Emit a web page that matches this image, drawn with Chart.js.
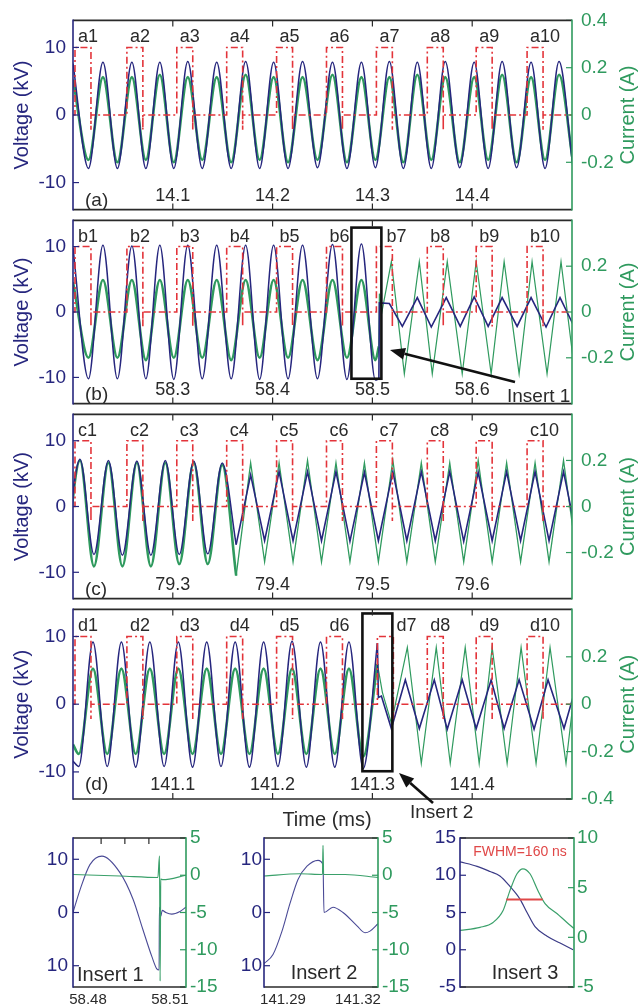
<!DOCTYPE html>
<html>
<head>
<meta charset="utf-8">
<script src="https://cdn.jsdelivr.net/npm/chart.js"></script>
<style>
  body { margin: 0; background: #fff; }
  #wrap { position: relative; width: 639px; height: 1008px; overflow: hidden; }
  canvas { position: absolute; }
</style>
</head>
<body>
<div id="wrap">
  <canvas id="pa"></canvas>
  <canvas id="pb"></canvas>
  <canvas id="pc"></canvas>
  <canvas id="pd"></canvas>
  <canvas id="i1"></canvas>
  <canvas id="i2"></canvas>
  <canvas id="i3"></canvas>
</div>
<script>
// ---- data (time in ms, voltage in kV, current in A) ----

// pulse trains (start times of the 10 trigger pulses in each panel)
const pulseWidth = 0.016;
const pulseHigh = 10;
const pulseLow = -2.2;
const aPulse = [14.002, 14.054, 14.104, 14.154, 14.204, 14.254, 14.304, 14.355, 14.404, 14.455];
const bPulse = [58.202, 58.254, 58.304, 58.354, 58.404, 58.454, 58.504, 58.555, 58.604, 58.655];
const cPulse = [79.202, 79.254, 79.304, 79.354, 79.404, 79.454, 79.504, 79.555, 79.604, 79.655];
const dPulse = [141.002, 141.054, 141.104, 141.154, 141.204, 141.254, 141.305, 141.355, 141.404, 141.455];

// tick labels
const aTicks = [14.1, 14.2, 14.3, 14.4];
const bTicks = [58.3, 58.4, 58.5, 58.6];
const cTicks = [79.3, 79.4, 79.5, 79.6];
const dTicks = [141.1, 141.2, 141.3, 141.4];
const voltTicks = [-10, 0, 10];
const currTicksA = [-0.2, 0, 0.2, 0.4];
const currTicks = [-0.2, 0, 0.2];
const currTicksD = [-0.4, -0.2, 0, 0.2];

// panel (a): peaks and troughs of voltage and current
const aTime = [14.000, 14.0155, 14.030, 14.0445, 14.059, 14.073, 14.087, 14.101, 14.115, 14.1295, 14.144, 14.1585,
  14.173, 14.187, 14.201, 14.2155, 14.230, 14.245, 14.260, 14.2745, 14.289, 14.303, 14.317, 14.331,
  14.345, 14.359, 14.373, 14.3875, 14.402, 14.416, 14.430, 14.4445, 14.459, 14.473, 14.487, 14.501];
const aVolt = [7.6, -7.9, 7.8, -7.9, 7.8, -7.9, 7.8, -7.9, 7.9, -7.9, 7.8, -7.9,
  7.9, -7.9, 7.8, -7.9, 7.9, -7.8, 7.8, -7.9, 7.8, -7.8, 7.9, -7.9,
  7.8, -7.9, 7.9, -7.8, 7.8, -7.9, 7.9, -7.8, 7.8, -7.9, 7.9, -7.8];
const aCurr = [0.15, -0.19, 0.16, -0.2, 0.16, -0.19, 0.17, -0.2, 0.16, -0.19, 0.16, -0.2,
  0.17, -0.19, 0.16, -0.2, 0.16, -0.19, 0.17, -0.2, 0.16, -0.19, 0.16, -0.2,
  0.17, -0.19, 0.16, -0.2, 0.16, -0.19, 0.17, -0.2, 0.16, -0.19, 0.17, -0.2];

// panel (b): before and after the discharge stops
const bTime = [58.200, 58.2155, 58.230, 58.2445, 58.259, 58.273, 58.287, 58.301, 58.315, 58.3295, 58.344, 58.3585,
  58.373, 58.387, 58.401, 58.4155, 58.430, 58.445, 58.460, 58.4745, 58.489, 58.503, 58.5065];
const bVolt = [9.8, -10.2, 10.2, -10.2, 10.1, -10.2, 10.2, -10.3, 10.2, -10.2, 10.2, -10.2,
  10.2, -10.3, 10.2, -10.2, 10.2, -10.2, 10.3, -10.3, 10.4, -10.4, -10.2];
const bCurr = [0.13, -0.2, 0.14, -0.2, 0.14, -0.21, 0.14, -0.2, 0.14, -0.2, 0.14, -0.21,
  0.14, -0.2, 0.14, -0.2, 0.14, -0.21, 0.14, -0.2, 0.14, -0.21, -0.15];
const bTimeAfterV = [58.5065, 58.507, 58.517, 58.530, 58.545, 58.559, 58.574, 58.588, 58.602, 58.616, 58.630, 58.645,
  58.659, 58.674, 58.688, 58.702];
const bVoltAfter = [-10.2, 1.4, 1.3, -2.2, 2.2, -2.3, 2.2, -2.2, 2.3, -2.2, 2.2, -2.2, 2.2, -2.3, 2.2, -2.2];
const bTimeAfterI = [58.5065, 58.507, 58.5095, 58.519, 58.532, 58.547, 58.560, 58.575, 58.590, 58.604, 58.619, 58.632,
  58.647, 58.660, 58.675, 58.689, 58.703];
const bCurrAfter = [-0.15, 0.08, 0.0, 0.22, -0.27, 0.22, -0.27, 0.22, -0.27, 0.22, -0.27, 0.22, -0.27, 0.22, -0.27, 0.22, -0.27];

// panel (c)
const cTime = [79.1925, 79.207, 79.221, 79.2355, 79.2495, 79.264, 79.278, 79.2925, 79.3065, 79.321, 79.335, 79.3495, 79.3635];
const cVolt = [-7.2, 7.2, -7.3, 7.0, -7.4, 6.9, -7.4, 7.0, -7.3, 6.9, -7.2, 6.6, -5.8];
const cCurr = [-0.25, 0.2, -0.26, 0.19, -0.26, 0.19, -0.26, 0.19, -0.25, 0.19, -0.25, 0.18, -0.3];
const cTimeAfter = [79.3635, 79.378, 79.392, 79.4065, 79.4205, 79.435, 79.449, 79.4635, 79.4775, 79.492, 79.506, 79.5205,
  79.5345, 79.549, 79.563, 79.5775, 79.5915, 79.606, 79.620, 79.6345, 79.6485, 79.663, 79.677, 79.6915, 79.7055];
const cVoltAfter = [-5.8, 4.8, -5.2, 5.3, -5.2, 5.3, -5.2, 5.3, -5.3, 5.2, -5.2, 5.3,
  -5.2, 5.3, -5.2, 5.3, -5.3, 5.2, -5.2, 5.3, -5.2, 5.3, -5.2, 5.3, -5.2];
const cCurrAfter = [-0.3, 0.19, -0.24, 0.19, -0.24, 0.2, -0.24, 0.19, -0.24, 0.19, -0.24, 0.2,
  -0.24, 0.19, -0.24, 0.19, -0.24, 0.2, -0.24, 0.19, -0.24, 0.19, -0.24, 0.2, -0.24];

// panel (d)
const dTime = [141.000, 141.0058, 141.020, 141.0343, 141.0485, 141.0628, 141.077, 141.0913, 141.1055, 141.1198, 141.134, 141.1483,
  141.1625, 141.1768, 141.191, 141.2053, 141.2195, 141.2338, 141.248, 141.2623, 141.2765, 141.2908, 141.305];
const dVolt = [-8.4, -9.2, 9.2, -9.2, 9.2, -9.3, 9.2, -9.2, 9.2, -9.3, 9.2, -9.2,
  9.2, -9.3, 9.2, -9.2, 9.3, -9.3, 9.2, -9.3, 9.2, -9.5, 9.0];
const dCurr = [-0.17, -0.21, 0.15, -0.21, 0.15, -0.21, 0.15, -0.21, 0.15, -0.21, 0.15, -0.21,
  0.15, -0.21, 0.15, -0.21, 0.15, -0.21, 0.15, -0.21, 0.15, -0.22, 0.17];
const dTimeAfterV = [141.305, 141.306, 141.309, 141.319, 141.333, 141.347, 141.362, 141.375, 141.390, 141.404, 141.419, 141.432,
  141.447, 141.462, 141.476, 141.492, 141.506];
const dVoltAfter = [9.0, 1.0, 1.2, -3.6, 3.6, -3.6, 3.6, -3.7, 3.6, -3.6, 3.6, -3.6, 3.6, -3.7, 3.6, -3.6, 3.6];
const dTimeAfterI = [141.305, 141.310, 141.319, 141.335, 141.349, 141.364, 141.378, 141.393, 141.407, 141.420, 141.435, 141.449,
  141.464, 141.478, 141.494, 141.507];
const dCurrAfter = [0.17, 0.05, -0.08, 0.24, -0.25, 0.24, -0.25, 0.24, -0.25, 0.24, -0.25, 0.24, -0.25, 0.24, -0.25, 0.22];

// Insert 1 (kV left, A right)
const ins1Time = [58.4745, 58.4771, 58.4807, 58.4851, 58.4917, 58.4965, 58.5001, 58.5034, 58.5052, 58.50605, 58.50615,
  58.5066, 58.5072, 58.5085, 58.5107, 58.5137, 58.5159];
const ins1Volt = [0.0, 4.3, 9.0, 10.6, 7.5, 2.5, -3.2, -8.3, -10.6, -10.8, 1.0, -0.8, 0.4, 0.0, -0.3, 0.2, 1.0];
const ins1CurrTime = [58.4745, 58.4917, 58.5056, 58.5062, 58.50642, 58.50664, 58.5074, 58.5159];
const ins1Curr = [0.1, -0.1, -0.3, 2.6, -14.2, -0.5, -0.6, 0.0];
const ins1Ticks = [58.48, 58.51];

// Insert 2
const ins2Time = [141.2824, 141.2860, 141.2896, 141.2928, 141.2960, 141.2996, 141.3040, 141.3060, 141.3064, 141.3100,
  141.3140, 141.3196, 141.3228, 141.3248, 141.3280];
const ins2Volt = [-9.6, -7.9, -3.5, 1.7, 6.2, 8.7, 9.8, 9.0, 0.0, 1.0, 0.0, -2.5, -3.8, -3.5, -2.1];
const ins2CurrTime = [141.2824, 141.2968, 141.3058, 141.3060, 141.30624, 141.3148, 141.3280];
const ins2Curr = [-0.1, 0.2, 0.1, 4.0, 0.1, 0.1, -0.3];
const ins2Ticks = [141.29, 141.32];

// Insert 3 (time in ns)
const ins3BlueNs = [0, 75, 132, 175, 219, 263, 294, 329, 382, 439, 496];
const ins3Volt = [11.8, 11.2, 10.5, 9.9, 8.5, 6.8, 5.0, 3.1, 1.8, 0.9, 0.0];
const ins3GreenNs = [0, 88, 145, 189, 219, 250, 276, 307, 342, 373, 425, 469, 500];
const ins3Curr = [0.7, 1.0, 1.5, 2.7, 4.7, 6.4, 6.9, 6.4, 4.7, 3.4, 2.4, 1.5, 0.9];
const fwhmNs = [203, 363];
const fwhmLevel = [3.8, 3.8];

// ---- drawing ----
const FONT = '"Liberation Sans", Arial, sans-serif';
const NAVY = '#26267e';
const GREEN = '#2f9a5e';
const RED = '#e3343a';
const INK = '#2a2a2a';
Chart.defaults.font.family = FONT;

function pts(xs, ys) {
  return xs.map((x, i) => ({ x: x, y: ys[i] }));
}

function pulseTrain(starts, t0) {
  const p = [{ x: t0, y: 0 }];
  starts.forEach(s => {
    p.push({ x: s, y: 0 }, { x: s, y: pulseHigh }, { x: s + pulseWidth, y: pulseHigh },
      { x: s + pulseWidth, y: pulseLow }, { x: s + pulseWidth, y: 0 });
  });
  p.push({ x: t0 + 0.5, y: 0 });
  return p;
}

function line(data, color, width, axis, smooth, dash) {
  return {
    data: data, borderColor: color, borderWidth: width, yAxisID: axis,
    pointRadius: 0, fill: false, borderDash: dash || [],
    tension: smooth ? 0.4 : 0, cubicInterpolationMode: smooth ? 'monotone' : 'default'
  };
}

function seg(ctx, x1, y1, x2, y2) {
  ctx.beginPath(); ctx.moveTo(x1, y1); ctx.lineTo(x2, y2); ctx.stroke();
}

function rotText(ctx, s, x, y) {
  ctx.save(); ctx.translate(x, y); ctx.rotate(-Math.PI / 2); ctx.fillText(s, 0, 0); ctx.restore();
}

function arrow(ctx, x1, y1, x2, y2) {
  const ang = Math.atan2(y2 - y1, x2 - x1), L = 15, W = 6;
  const bx = x2 - L * Math.cos(ang), by = y2 - L * Math.sin(ang);
  ctx.strokeStyle = '#111'; ctx.fillStyle = '#111'; ctx.lineWidth = 2.6;
  seg(ctx, x1, y1, bx, by);
  ctx.beginPath();
  ctx.moveTo(x2, y2);
  ctx.lineTo(bx + W * Math.sin(ang), by - W * Math.cos(ang));
  ctx.lineTo(bx - W * Math.sin(ang), by + W * Math.cos(ang));
  ctx.closePath(); ctx.fill();
}

// frame, inward ticks, labels and annotations
const frame = {
  id: 'frame',
  afterDatasetsDraw(chart, args, o) {
    const ctx = chart.ctx, a = chart.chartArea;
    const sx = chart.scales.x, sy = chart.scales.y, sy2 = chart.scales.y2;
    const ox = o.left || 0, oy = o.top || 0;
    ctx.save();
    if (o.box) {
      const b = o.box;
      const x1 = sx.getPixelForValue(b[0]), x2 = sx.getPixelForValue(b[1]);
      const y1 = sy.getPixelForValue(b[2]), y2 = sy.getPixelForValue(b[3]);
      ctx.strokeStyle = '#111'; ctx.lineWidth = 2.6;
      ctx.strokeRect(x1, y1, x2 - x1, y2 - y1);
    }
    ctx.lineWidth = 1.2;
    ctx.strokeStyle = INK;
    (o.xTicks || []).forEach(v => {
      const px = sx.getPixelForValue(v);
      seg(ctx, px, a.top, px, a.top + 6);
      if (!o.topOnly) seg(ctx, px, a.bottom, px, a.bottom - 6);
    });
    ctx.strokeStyle = NAVY;
    sy.ticks.forEach(t => { const py = sy.getPixelForValue(t.value); seg(ctx, a.left, py, a.left + 6, py); });
    ctx.strokeStyle = GREEN;
    sy2.ticks.forEach(t => { const py = sy2.getPixelForValue(t.value); seg(ctx, a.right, py, a.right - 6, py); });

    ctx.lineWidth = 1.6;
    ctx.strokeStyle = INK;
    seg(ctx, a.left, a.top, a.right, a.top);
    seg(ctx, a.left, a.bottom, a.right, a.bottom);
    ctx.strokeStyle = NAVY; seg(ctx, a.left, a.top - 0.8, a.left, a.bottom + 0.8);
    ctx.strokeStyle = GREEN; seg(ctx, a.right, a.top - 0.8, a.right, a.bottom + 0.8);

    ctx.fillStyle = INK; ctx.textAlign = 'center'; ctx.textBaseline = 'middle';
    ctx.font = (o.xFont || 18) + 'px ' + FONT;
    (o.xLabels || []).forEach(v => {
      ctx.fillText(v.toFixed(o.xDec || 1), sx.getPixelForValue(v), o.xOut ? a.bottom + 13 : a.bottom - 14);
    });

    if (o.pulses) {
      ctx.textAlign = 'left'; ctx.font = '18px ' + FONT;
      o.pulses.forEach((s, i) => {
        const shift = (o.labelShift && o.labelShift[i]) || 3;
        ctx.fillText(o.prefix + (i + 1), sx.getPixelForValue(s) + shift, a.top + 17);
      });
    }

    if (o.titles) {
      const cy = (a.top + a.bottom) / 2;
      ctx.font = '20px ' + FONT; ctx.textAlign = 'center';
      ctx.fillStyle = NAVY; rotText(ctx, 'Voltage (kV)', 22, cy);
      ctx.fillStyle = GREEN; rotText(ctx, 'Current (A)', 628, cy);
    }

    (o.texts || []).forEach(t => {
      ctx.font = (t.size || 19) + 'px ' + FONT;
      ctx.fillStyle = t.color || INK;
      ctx.textAlign = t.align || 'center';
      ctx.fillText(t.text, t.x - ox, t.y - oy);
    });
    (o.arrows || []).forEach(r => arrow(ctx, r[0] - ox, r[1] - oy, r[2] - ox, r[3] - oy));
    ctx.restore();
  }
};

function yAxis(pos, min, max, ticks, color, width, pad, size, fmt) {
  return {
    position: pos, min: min, max: max,
    afterBuildTicks: s => { s.ticks = ticks.map(v => ({ value: v })); },
    afterFit: s => { s.width = width; },
    grid: { display: false, drawTicks: false },
    border: { display: false },
    ticks: { color: color, padding: pad, font: { family: FONT, size: size }, callback: fmt || (v => String(v)) }
  };
}

function mainPanel(id, top, h, padTop, padBottom, xMin, sets, curr, fo) {
  const cv = document.getElementById(id);
  cv.width = 639; cv.height = padTop + h + padBottom;
  cv.style.left = '0px'; cv.style.top = (top - padTop) + 'px';
  new Chart(cv, {
    type: 'line',
    data: { datasets: sets },
    options: {
      responsive: false, animation: false, devicePixelRatio: 1,
      layout: { padding: { top: padTop, bottom: padBottom, left: 0, right: 0 } },
      plugins: { legend: { display: false }, tooltip: { enabled: false },
        frame: Object.assign({ left: 0, top: top - padTop, titles: true }, fo) },
      scales: {
        x: { type: 'linear', display: false, min: xMin, max: xMin + 0.5 },
        y: yAxis('left', -14, 14, voltTicks, NAVY, 73, 7, 19),
        y2: yAxis('right', -0.4, 0.4, curr, GREEN, 67, 9, 19)
      }
    },
    plugins: [frame]
  });
}

function insert(id, left, w, chartL, chartR, xMin, xMax, sets, yl, yr, fo) {
  const top = 820, h = 188, cTop = 838, cBot = 987;
  const cv = document.getElementById(id);
  cv.width = w; cv.height = h;
  cv.style.left = left + 'px'; cv.style.top = top + 'px';
  new Chart(cv, {
    type: 'line',
    data: { datasets: sets },
    options: {
      responsive: false, animation: false, devicePixelRatio: 1,
      layout: { padding: { top: cTop - top, bottom: top + h - cBot, left: 0, right: 0 } },
      plugins: { legend: { display: false }, tooltip: { enabled: false },
        frame: Object.assign({ left: left, top: top }, fo) },
      scales: {
        x: { type: 'linear', display: false, min: xMin, max: xMax },
        y: yAxis('left', yl.min, yl.max, yl.ticks, NAVY, chartL - left, yl.pad, 19, yl.fmt),
        y2: yAxis('right', yr.min, yr.max, yr.ticks, GREEN, left + w - chartR, yr.pad, 19)
      }
    },
    plugins: [frame]
  });
}

// main panels
mainPanel('pa', 20, 195, 20, 15, 14.0, [
  line(pulseTrain(aPulse, 14.0), RED, 1.6, 'y', false, [7, 3, 2, 3]),
  line(pts(aTime, aVolt), NAVY, 1.5, 'y', true),
  line(pts(aTime, aCurr), GREEN, 2.6, 'y2', true)
], currTicksA, {
  xTicks: aTicks, xLabels: aTicks, pulses: aPulse, prefix: 'a',
  texts: [{ text: '(a)', x: 85, y: 201, align: 'left' }]
});

mainPanel('pb', 215, 194, 15, 15, 58.2, [
  line(pulseTrain(bPulse, 58.2), RED, 1.6, 'y', false, [7, 3, 2, 3]),
  line(pts(bTimeAfterV, bVoltAfter), NAVY, 1.6, 'y', false),
  line(pts(bTime, bVolt), NAVY, 1.5, 'y', true),
  line(pts(bTimeAfterI, bCurrAfter), GREEN, 1.2, 'y2', false),
  line(pts(bTime, bCurr), GREEN, 2.6, 'y2', true)
], currTicks, {
  xTicks: bTicks, xLabels: bTicks, pulses: bPulse, prefix: 'b', labelShift: { 6: 10 },
  box: [58.479, 58.509, 12.9, -10.2],
  texts: [{ text: '(b)', x: 85, y: 395, align: 'left' }, { text: 'Insert 1', x: 507, y: 397, align: 'left' }],
  arrows: [[515, 382, 390, 350]]
});

mainPanel('pc', 409, 195, 15, 15, 79.2, [
  line(pulseTrain(cPulse, 79.2), RED, 1.6, 'y', false, [7, 3, 2, 3]),
  line(pts(cTimeAfter, cVoltAfter), NAVY, 1.6, 'y', false),
  line(pts(cTime, cVolt), NAVY, 1.5, 'y', true),
  line(pts(cTimeAfter, cCurrAfter), GREEN, 1.3, 'y2', false),
  line(pts(cTime, cCurr), GREEN, 2.6, 'y2', true)
], currTicks, {
  xTicks: cTicks, xLabels: cTicks, pulses: cPulse, prefix: 'c',
  texts: [{ text: '(c)', x: 85, y: 590, align: 'left' }]
});

mainPanel('pd', 604, 195, 15, 45, 141.0, [
  line(pulseTrain(dPulse, 141.0), RED, 1.6, 'y', false, [7, 3, 2, 3]),
  line(pts(dTimeAfterV, dVoltAfter), NAVY, 1.6, 'y', false),
  line(pts(dTime, dVolt), NAVY, 1.5, 'y', true),
  line(pts(dTimeAfterI, dCurrAfter), GREEN, 1.2, 'y2', false),
  line(pts(dTime, dCurr), GREEN, 2.6, 'y2', true)
], currTicksD, {
  xTicks: dTicks, xLabels: dTicks, pulses: dPulse, prefix: 'd', labelShift: { 6: 19 },
  box: [141.290, 141.320, 13.4, -9.9],
  texts: [{ text: '(d)', x: 85, y: 785, align: 'left' }, { text: 'Insert 2', x: 410, y: 813, align: 'left' },
    { text: 'Time (ms)', x: 327, y: 820, size: 20 }],
  arrows: [[433, 803, 399, 773]]
});

// inserts
const absFmt = v => String(Math.abs(v));
insert('i1', 0, 240, 73, 186, 58.4745, 58.5159, [
  line(pts(ins1CurrTime, ins1Curr), '#3aa06a', 1.2, 'y2', true),
  line(pts(ins1Time, ins1Volt), '#4a4a96', 1.1, 'y', true)
], { min: -14, max: 14, ticks: [-10, 0, 10], pad: 5, fmt: absFmt },
   { min: -15, max: 5, ticks: [-15, -10, -5, 0, 5], pad: 4 },
   { xTicks: [58.4848, 58.4935, 58.5023], topOnly: true, xLabels: ins1Ticks, xDec: 2, xOut: true, xFont: 15,
     texts: [{ text: 'Insert 1', x: 77, y: 975, align: 'left', size: 20 }] });

insert('i2', 200, 230, 264, 378, 141.2824, 141.3280, [
  line(pts(ins2CurrTime, ins2Curr), '#3aa06a', 1.2, 'y2', true),
  line(pts(ins2Time, ins2Volt), '#4a4a96', 1.1, 'y', true)
], { min: -14, max: 14, ticks: [-10, 0, 10], pad: 2, fmt: absFmt },
   { min: -15, max: 5, ticks: [-15, -10, -5, 0, 5], pad: 4 },
   { xLabels: ins2Ticks, xDec: 2, xOut: true, xFont: 15,
     texts: [{ text: 'Insert 2', x: 324, y: 973, size: 20 }] });

insert('i3', 400, 239, 460, 574, 0, 500, [
  line(pts(fwhmNs, fwhmLevel), '#e04848', 2, 'y2', false),
  line(pts(ins3GreenNs, ins3Curr), '#3aa06a', 1.2, 'y2', true),
  line(pts(ins3BlueNs, ins3Volt), '#3a3a86', 1.2, 'y', true)
], { min: -5, max: 15, ticks: [-5, 0, 5, 10, 15], pad: 4 },
   { min: -5, max: 10, ticks: [-5, 0, 5, 10], pad: 3 },
   { texts: [{ text: 'FWHM=160 ns', x: 520, y: 852, size: 14, color: '#e04848' },
     { text: 'Insert 3', x: 525, y: 973, size: 20 }] });
</script>
</body>
</html>
